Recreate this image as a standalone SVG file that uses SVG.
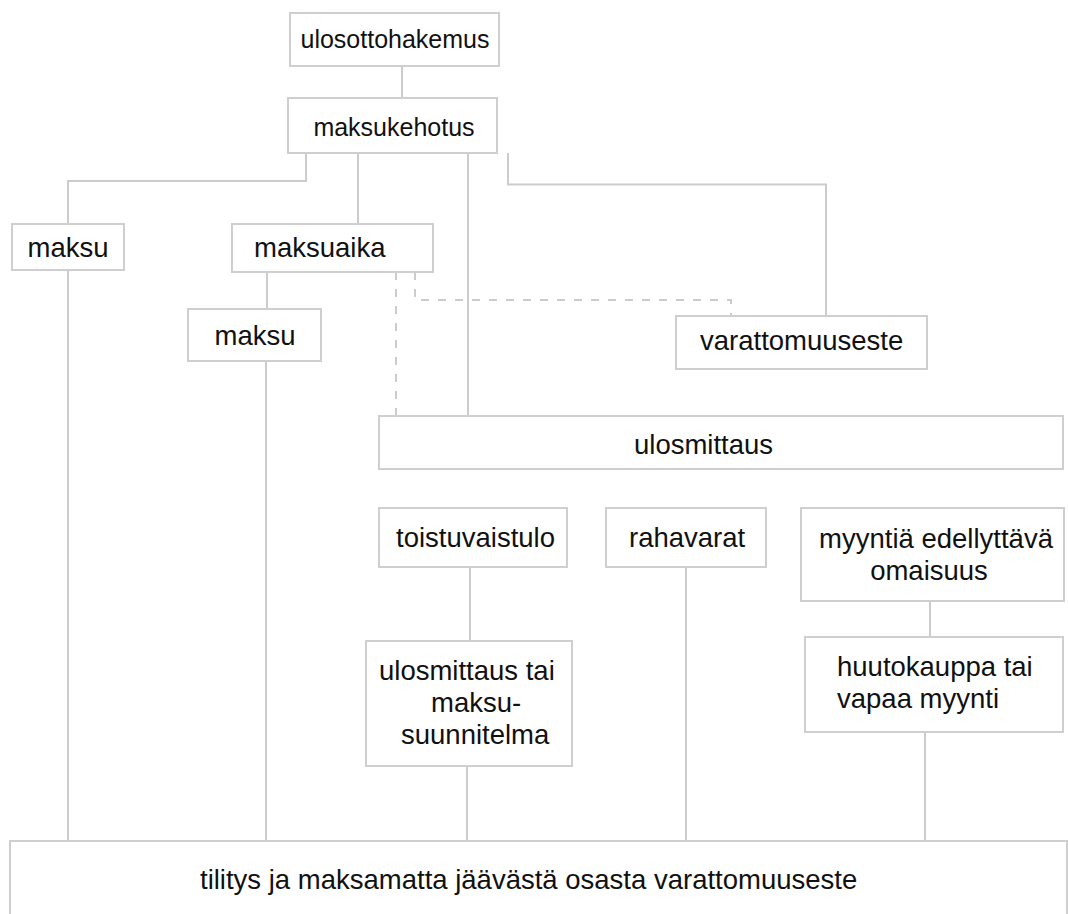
<svg xmlns="http://www.w3.org/2000/svg" width="1068" height="914" viewBox="0 0 1068 914">
<style>
.box{fill:#ffffff;stroke:#cfcfcf;stroke-width:2}
.t{font-family:"Liberation Sans",Arial,sans-serif;font-size:27.5px;fill:#111111}
.s{font-size:25px}
.c{text-anchor:middle}
.ln{fill:none;stroke:#cccccc;stroke-width:2}
.dash{fill:none;stroke:#cccccc;stroke-width:2;stroke-dasharray:8,9}
</style>
<rect width="1068" height="914" fill="#ffffff"/>
<g id="connectors">
<path class="ln" d="M402,66V98"/>
<path class="ln" d="M306,153V181H68V224"/>
<path class="ln" d="M358,153V224"/>
<path class="ln" d="M468,153V416"/>
<path class="ln" d="M508,153V184.5H826V316"/>
<path class="ln" d="M267,272V309"/>
<path class="dash" d="M396,272V416"/>
<path class="dash" d="M415,272V300H731V316"/>
<path class="ln" d="M68,270V841"/>
<path class="ln" d="M266,361V841"/>
<path class="ln" d="M470,567V641"/>
<path class="ln" d="M467,766V841"/>
<path class="ln" d="M686,567V841"/>
<path class="ln" d="M930,601V637"/>
<path class="ln" d="M925,732V841"/>
</g>
<g id="n-ulosottohakemus"><rect class="box" x="290" y="13" width="209" height="53"/><text class="t s c" x="395" y="48">ulosottohakemus</text></g>
<g id="n-maksukehotus"><rect class="box" x="288" y="98" width="209" height="55"/><text class="t s c" x="394" y="136">maksukehotus</text></g>
<g id="n-maksu1"><rect class="box" x="12" y="224" width="112" height="46"/><text class="t c" x="68" y="257">maksu</text></g>
<g id="n-maksuaika"><rect class="box" x="232" y="224" width="201" height="48"/><text class="t" x="254" y="257">maksuaika</text></g>
<g id="n-maksu2"><rect class="box" x="188" y="309" width="133" height="52"/><text class="t c" x="255" y="345">maksu</text></g>
<g id="n-varattomuuseste"><rect class="box" x="676" y="316" width="251" height="53"/><text class="t" x="700" y="350">varattomuuseste</text></g>
<g id="n-ulosmittaus"><rect class="box" x="379" y="416" width="684" height="53"/><text class="t" x="634" y="454">ulosmittaus</text></g>
<g id="n-toistuvaistulo"><rect class="box" x="379" y="508" width="188" height="59"/><text class="t" x="396" y="547">toistuvaistulo</text></g>
<g id="n-rahavarat"><rect class="box" x="606" y="508" width="160" height="59"/><text class="t" x="629" y="547">rahavarat</text></g>
<g id="n-myyntia"><rect class="box" x="801" y="508" width="263" height="93"/><text class="t c" x="936" y="548">myyntiä edellyttävä</text><text class="t c" x="929" y="580">omaisuus</text></g>
<g id="n-ulosmittaus-tai"><rect class="box" x="366" y="641" width="206" height="125"/><text class="t" x="379" y="680">ulosmittaus tai</text><text class="t" x="431" y="712">maksu-</text><text class="t" x="401" y="744">suunnitelma</text></g>
<g id="n-huutokauppa"><rect class="box" x="805" y="637" width="258" height="95"/><text class="t" x="837" y="676">huutokauppa tai</text><text class="t" x="837" y="708">vapaa myynti</text></g>
<g id="n-tilitys"><rect class="box" x="10" y="841" width="1057" height="80"/><text class="t" x="200" y="889">tilitys ja maksamatta jäävästä osasta varattomuuseste</text></g>
</svg>
